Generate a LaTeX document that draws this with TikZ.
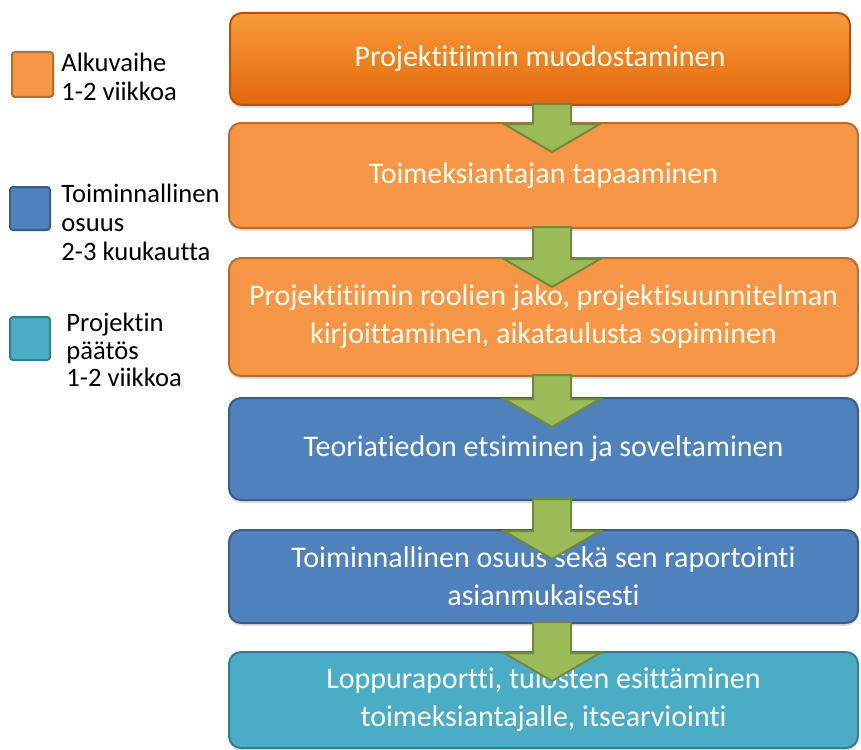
\documentclass[tikz,border=0pt]{standalone}
\usepackage{fontspec}
\setmainfont{Carlito}[Ligatures=NoCommon]
\usetikzlibrary{calc}
\usetikzlibrary{shadows}
\definecolor{orfill}{HTML}{F79646}
\definecolor{ordraw}{HTML}{B66D31}
\definecolor{ortop}{HTML}{F99A3A}
\definecolor{orbot}{HTML}{E2680C}
\definecolor{blfill}{HTML}{4F81BD}
\definecolor{bldraw}{HTML}{385D8A}
\definecolor{aqfill}{HTML}{4BACC6}
\definecolor{aqdraw}{HTML}{357D91}
\definecolor{grfill}{HTML}{9BBB59}
\definecolor{grdraw}{HTML}{71893F}
\tikzset{
	% flow boxes
	stagebox/.style={rectangle, rounded corners=6pt, line width=1pt,
		text=white!94!yellow, align=center,
		font=\fontsize{15}{19}\selectfont,
		drop shadow={shadow xshift=0pt, shadow yshift=-1.5pt, opacity=0.25}},
	orbox/.style={stagebox, fill=orfill, draw=ordraw},
	blbox/.style={stagebox, fill=blfill, draw=bldraw},
	aqbox/.style={stagebox, fill=aqfill, draw=aqdraw},
	% legend
	legsq/.style={rectangle, rounded corners=1.5pt, line width=1pt},
	legtxt/.style={anchor=west, align=left, inner sep=0pt,
		font=\fontsize{13.3}{14.5}\selectfont},
	% block arrows
	flowarr/.style={fill=grfill, draw=grdraw, line width=1pt, line join=miter},
}

\begin{document}
\begin{tikzpicture}[x=0.5pt, y=-0.5pt]
	\useasboundingbox (0,0) rectangle (861,749);

	% legend
	\node[legsq, fill=orfill, draw=ordraw, minimum width=20.5pt, minimum height=22.5pt] (sqalku) at (32.5,74.5) {};
	\node[legsq, fill=blfill, draw=bldraw, minimum width=20pt, minimum height=21.5pt] (sqtoim) at (30,208.5) {};
	\node[legsq, fill=aqfill, draw=aqdraw, minimum width=20pt, minimum height=21.5pt] (sqpaat) at (30,338.5) {};
	\node[legtxt] (lgalku) at (61,77) {Alkuvaihe\\1-2 viikkoa};
	\node[legtxt] (lgtoim) at (61,222) {Toiminnallinen\\osuus\\2-3 kuukautta};
	\node[legtxt, font=\fontsize{13.3}{13.8}\selectfont] (lgpaat) at (66,350) {Projektin\\päätös\\1-2 viikkoa};

	% stages
	\node[stagebox, draw=orbot!80!black, top color=ortop, bottom color=orbot,
		minimum width=310pt, minimum height=46pt] (b1) at (540,59)
		{Projektitiimin muodostaminen};
	\node[orbox, minimum width=314.5pt, minimum height=52.5pt] (b2) at (543.5,175.5)
		{Toimeksiantajan tapaaminen};
	\node[orbox, minimum width=314.5pt, minimum height=59pt] (b3) at (543.5,317)
		{Projektitiimin roolien jako, projektisuunnitelman\\kirjoittaminen, aikataulusta sopiminen};
	\node[blbox, minimum width=314.5pt, minimum height=51pt] (b4) at (543.5,449)
		{Teoriatiedon etsiminen ja soveltaminen};
	\node[blbox, minimum width=314.5pt, minimum height=46.5pt] (b5) at (543.5,576.5)
		{Toiminnallinen osuus sekä sen raportointi\\asianmukaisesti};
	\node[aqbox, minimum width=314.5pt, minimum height=48pt] (b6) at (543.5,700)
		{Loppuraportti, tulosten esittäminen\\toimeksiantajalle, itsearviointi};

	% arrows between stages
	\foreach \a/\b in {b1/b2, b2/b3, b3/b4, b4/b5, b5/b6}
		\draw[flowarr] let \p1=(\a.south), \p2=(\b.north) in
			(\x2-5.25pt,\y1+1pt) -- (\x2+13.75pt,\y1+1pt) -- (\x2+13.75pt,\y2-1pt)
			-- (\x2+28.25pt,\y2-1pt) -- (\x2+4.25pt,\y2-15pt) -- (\x2-19.75pt,\y2-1pt)
			-- (\x2-5.25pt,\y2-1pt) -- cycle;

\end{tikzpicture}
\end{document}
